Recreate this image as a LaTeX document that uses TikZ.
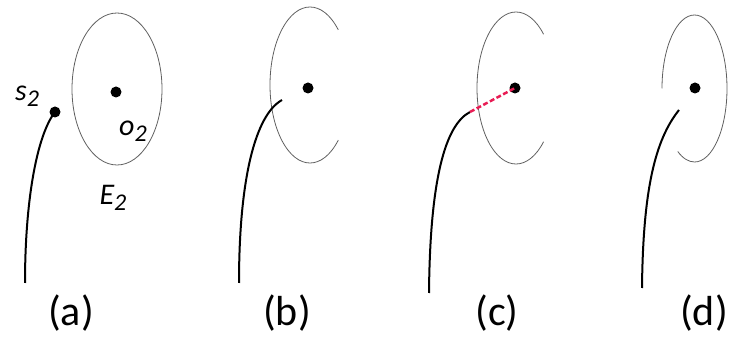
\documentclass[tikz,border=0pt]{standalone}
\usepackage{fontspec}
\setmainfont{Carlito}
\usetikzlibrary{positioning}
\definecolor{rimgray}{RGB}{95,95,95}
\definecolor{linkred}{RGB}{232,28,84}
\newcommand{\lowtwo}{\raisebox{-0.45ex}{\fontsize{24}{26}\selectfont 2}}

\begin{document}
\begin{tikzpicture}[x=1pt,y=-1pt]
\tikzset{
  seed/.style={circle,fill=black,inner sep=0pt,minimum size=11pt},
  rim/.style={draw=rimgray,line width=0.8pt},
  stroke/.style={line width=2pt},
  tag/.style={font=\fontsize{30}{32}\selectfont\itshape,inner sep=0pt},
  caption/.style={font=\fontsize{42}{46}\selectfont,inner sep=0pt}
}
\useasboundingbox (0,0) rectangle (737,347);
% (a) full ellipse with both points
\draw[rim] (117,89) ellipse[x radius=45,y radius=76];
\node[seed] (oa) at (116,92) {};
\node[seed] (sa) at (55,112) {};
\coordinate (foota) at (25,283);
\draw[stroke] (foota) .. controls (25,200) and (37,135) .. (sa.center);
\node[tag] (slab) at (27,96) {s\lowtwo};
\node[tag] (olab) at (133,131) {o\lowtwo};
\node[tag] (elab) at (113,198) {E\lowtwo};
\node[caption] (capa) at (71,313) {(a)};
% (b)
\draw[rim] (310,85) ++(45:40 and 78) arc[start angle=45,end angle=315,x radius=40,y radius=78];
\node[seed] (ob) at (308,88) {};
\coordinate (footb) at (239,283);
\coordinate (tipb) at (282,100);
\draw[stroke] (footb) .. controls (239,180) and (255,115) .. (tipb);
\node[caption] (capb) at (287,313) {(b)};
% (c)
\draw[rim] (516,88) ++(45:39 and 76) arc[start angle=45,end angle=315,x radius=39,y radius=76];
\node[seed] (oc) at (515,88) {};
\coordinate (footc) at (429,293);
\coordinate (tipc) at (470,112);
\draw[stroke] (footc) .. controls (430,180) and (445,125) .. (tipc);
\draw[linkred,line width=2.5pt,dash pattern=on 5pt off 2.5pt] (tipc) -- (oc.center);
\node[caption] (capc) at (497,313) {(c)};
% (d)
\draw[rim] (694.5,88.5) ++(180:32.5 and 73.5) arc[start angle=180,end angle=481,x radius=32.5,y radius=73.5];
\node[seed] (od) at (695,88) {};
\coordinate (footd) at (642,288);
\coordinate (tipd) at (679,110);
\draw[stroke] (footd) .. controls (643,190) and (655,140) .. (tipd);
\node[caption] (capd) at (704,313) {(d)};
\end{tikzpicture}
\end{document}
